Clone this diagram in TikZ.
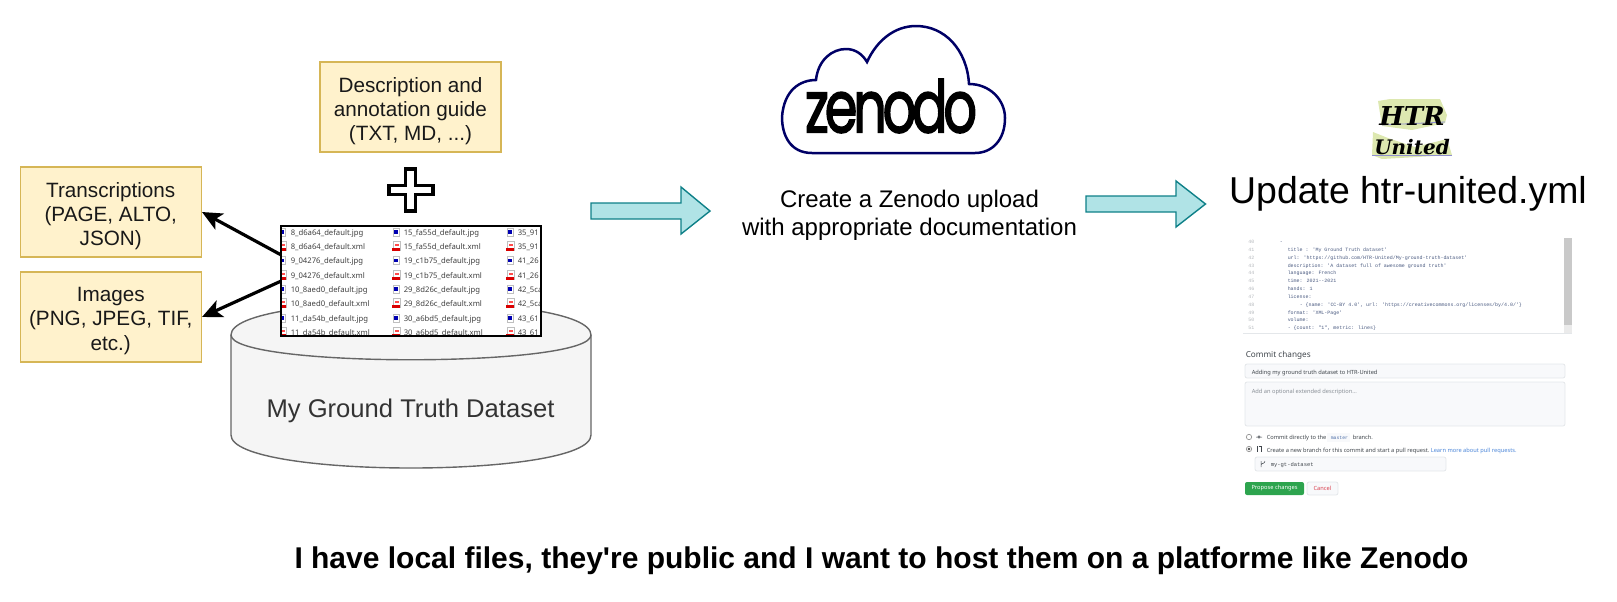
\documentclass[tikz,border=0pt]{standalone}
\usepackage{fontspec}
\setmainfont{Liberation Sans}
\newfontfamily\uifont{Noto Sans}
\newfontfamily\codefont{Liberation Mono}
\newfontfamily\zenfont[LetterSpace=-8,FakeBold=2.5]{Poppins}
\newfontfamily\handfont{DejaVu Serif}
\usetikzlibrary{arrows.meta}

\definecolor{boxfill}{HTML}{FFF2CC}
\definecolor{boxline}{HTML}{D6B656}
\definecolor{stepfill}{HTML}{B0E3E6}
\definecolor{stepline}{HTML}{0E8088}
\definecolor{dbfill}{HTML}{F5F5F5}
\definecolor{dbline}{HTML}{666666}
\definecolor{dbtext}{HTML}{333333}
\definecolor{cloudline}{HTML}{000066}
\definecolor{logofill}{HTML}{DDE8B0}
\definecolor{logoline}{HTML}{8F8FD0}
\definecolor{ghline}{HTML}{E4E7EA}
\definecolor{ghfill}{HTML}{F8F9FB}
\definecolor{ghtext}{HTML}{40464C}
\definecolor{ghmute}{HTML}{8A9097}
\definecolor{ghblue}{HTML}{4C86D8}
\definecolor{ghgreen}{HTML}{2DA44E}
\definecolor{ghred}{HTML}{D9414F}
\definecolor{codekey}{HTML}{4D6FA8}
\definecolor{codestr}{HTML}{4A5A80}
\definecolor{codenum}{HTML}{B4B8BC}

\tikzset{every picture/.style={line width=0.75pt}}
\tikzset{
  formatbox/.style={draw=boxline,fill=boxfill,minimum width=90.5pt,minimum height=45pt,inner sep=0pt},
  formattext/.style={inner sep=0pt,align=center,text=black!90,font=\fontsize{10.35}{12.1}\selectfont},
  stepshape/.style={draw=stepline,fill=stepfill,line width=0.7pt},
  filearrow/.style={line width=1.6pt,-{Stealth[length=10pt,width=9pt,inset=2.5pt]}},
  filetext/.style={anchor=base west,inner sep=0pt,text=black!75,font=\uifont\fontsize{3.85}{5}\selectfont},
  linenum/.style={anchor=base east,inner sep=0pt,text=codenum,font=\codefont\fontsize{2.48}{3}\selectfont},
  codetext/.style={anchor=base west,inner sep=0pt,text=codestr,font=\codefont\fontsize{2.48}{3}\selectfont},
  uitext/.style={anchor=base west,inner sep=0pt,text=ghtext,font=\uifont\fontsize{2.85}{3}\selectfont},
  inputbox/.style={draw=ghline,fill=ghfill,line width=0.4pt,rounded corners=1pt},
  uiicon/.style={draw=ghtext,line width=0.25pt},
  jpgicon/.pic={\fill[white] (-3,-4) rectangle (3,4); \draw[black!25,line width=0.2pt] (-3,-4) rectangle (3,4); \fill[blue!70!black] (-1.8,-1.8) rectangle (1.8,1.8);},
  xmlicon/.pic={\fill[white] (-3,-4) rectangle (4,5); \draw[black!25,line width=0.2pt] (-3,-4) rectangle (4,5); \fill[red!85!black] (-4,-5) rectangle (4,-2); \fill[red!70] (-1.5,0) rectangle (3,2.5);}
}

\begin{document}
\begin{tikzpicture}[x=0.5pt,y=0.5pt,yscale=-1,xscale=1]
\useasboundingbox (0,0) rectangle (1617,601);

% Cylinder
\draw [draw=dbline,fill=dbfill,line width=0.7pt] (231,335) .. controls (231,291) and (591,291) .. (591,335) -- (591,435) .. controls (591,479) and (231,479) .. (231,435) -- cycle ;
\draw [draw=dbline,line width=0.7pt] (231,335) .. controls (231,368) and (591,368) .. (591,335) ;
\node (dataset) [inner sep=0pt,text=dbtext,font=\fontsize{12.8}{14}\selectfont] at (410.5,411) {My Ground Truth Dataset};

% Format boxes
\node (guide) [formatbox] at (410.5,107) {};
\node (guidetext) [formattext] at (410.5,111) {Description and\\annotation guide\\(TXT, MD, ...)};
\node (transcriptions) [formatbox] at (110.75,212) {};
\node (transcriptionstext) [formattext] at (110.75,216) {Transcriptions\\(PAGE, ALTO,\\JSON)};
\node (images) [formatbox] at (110.75,317) {};
\node (imagestext) [formattext] at (110.75,321) {Images\\(PNG, JPEG, TIF,\\etc.)};

% Plus sign
\draw [line width=1.75pt,fill=white] (405.5,169) -- (415.5,169) -- (415.5,185.5) -- (433,185.5) -- (433,194.5) -- (415.5,194.5) -- (415.5,211) -- (405.5,211) -- (405.5,194.5) -- (389,194.5) -- (389,185.5) -- (405.5,185.5) -- cycle ;

% File list
\node (filelist) [fill=white,minimum width=129pt,minimum height=54pt,inner sep=0pt] at (411,281) {};
\begin{scope}
\clip (filelist.north west) rectangle (filelist.south east);
\pic at (282,232) {jpgicon}; \pic at (396,232) {jpgicon}; \pic at (510,232) {jpgicon};
\pic at (282,246) {xmlicon}; \pic at (396,246) {xmlicon}; \pic at (510,246) {xmlicon};
\pic at (282,260.5) {jpgicon}; \pic at (396,260.5) {jpgicon}; \pic at (510,260.5) {jpgicon};
\pic at (282,275) {xmlicon}; \pic at (396,275) {xmlicon}; \pic at (510,275) {xmlicon};
\pic at (282,289) {jpgicon}; \pic at (396,289) {jpgicon}; \pic at (510,289) {jpgicon};
\pic at (282,303) {xmlicon}; \pic at (396,303) {xmlicon}; \pic at (510,303) {xmlicon};
\pic at (282,318) {jpgicon}; \pic at (396,318) {jpgicon}; \pic at (510,318) {jpgicon};
\pic at (282,332) {xmlicon}; \pic at (396,332) {xmlicon}; \pic at (510,332) {xmlicon};
\node (fa1) [filetext] at (290,235) {8\_d6a64\_default.jpg};
\node (fa2) [filetext] at (290,249) {8\_d6a64\_default.xml};
\node (fa3) [filetext] at (290,263.5) {9\_04276\_default.jpg};
\node (fa4) [filetext] at (290,278) {9\_04276\_default.xml};
\node (fa5) [filetext] at (290,292) {10\_8aed0\_default.jpg};
\node (fa6) [filetext] at (290,306) {10\_8aed0\_default.xml};
\node (fa7) [filetext] at (290,321) {11\_da54b\_default.jpg};
\node (fa8) [filetext] at (290,335) {11\_da54b\_default.xml};
\node (fb1) [filetext] at (403,235) {15\_fa55d\_default.jpg};
\node (fb2) [filetext] at (403,249) {15\_fa55d\_default.xml};
\node (fb3) [filetext] at (403,263.5) {19\_c1b75\_default.jpg};
\node (fb4) [filetext] at (403,278) {19\_c1b75\_default.xml};
\node (fb5) [filetext] at (403,292) {29\_8d26c\_default.jpg};
\node (fb6) [filetext] at (403,306) {29\_8d26c\_default.xml};
\node (fb7) [filetext] at (403,321) {30\_a6bd5\_default.jpg};
\node (fb8) [filetext] at (403,335) {30\_a6bd5\_default.xml};
\node (fc1) [filetext] at (517,235) {35\_91};
\node (fc2) [filetext] at (517,249) {35\_91};
\node (fc3) [filetext] at (517,263.5) {41\_26};
\node (fc4) [filetext] at (517,278) {41\_26};
\node (fc5) [filetext] at (517,292) {42\_5ca};
\node (fc6) [filetext] at (517,306) {42\_5ca};
\node (fc7) [filetext] at (517,321) {43\_61};
\node (fc8) [filetext] at (517,335) {43\_61};
\end{scope}
\draw [line width=0.9pt] (filelist.north west) rectangle (filelist.south east) ;

% File arrows
\draw [filearrow] ([yshift=-13pt]filelist.west) -- (transcriptions.east) ;
\draw [filearrow] (filelist.west) -- (images.east) ;

% Block arrows
\draw [stepshape] (591,203) -- (681,203) -- (681,187) -- (710,211) -- (681,234) -- (681,219) -- (591,219) -- cycle ;
\draw [stepshape] (1086,196) -- (1176,196) -- (1176,181) -- (1205.5,204) -- (1176,227) -- (1176,212) -- (1086,212) -- cycle ;

% Zenodo cloud
\draw [draw=cloudline,line width=1.25pt] (812,153) .. controls (790,153) and (782,135) .. (782,117) .. controls (784,90) and (800,80) .. (816,80) .. controls (818,60) and (832,49) .. (846,49) .. controls (856,49) and (863,55) .. (867,62) .. controls (877,40) and (895,26) .. (916,26) .. controls (945,26) and (967,50) .. (969,84) .. controls (990,84) and (1005,100) .. (1005,118) .. controls (1005,140) and (992,153) .. (975,153) -- cycle ;
\node (zenodologo) [inner sep=0pt] at (891,106) {\scalebox{0.73}[1]{\zenfont\fontsize{36}{36}\selectfont zenodo}};

% Step text
\node (zenodostep) [align=center,inner sep=0pt,font=\fontsize{12}{14.2}\selectfont] at (909.5,215) {Create a Zenodo upload\\with appropriate documentation};

% HTR-United logo
\fill [logofill] (1378,101) -- (1390,99) -- (1440,99) -- (1447,115) -- (1445,123) -- (1412,130) -- (1382,126) -- cycle ;
\fill [logofill] (1373,132) -- (1388,138) -- (1415,147) -- (1447,139) -- (1452,155) -- (1382,159) -- (1372,155) -- cycle ;
\draw [logoline,line width=0.4pt] (1382,125) -- (1445,122) ;
\draw [logoline,line width=0.4pt] (1372,155) -- (1452,155) ;
\node (logohtr) [anchor=base,inner sep=0pt,font=\handfont\bfseries\itshape\fontsize{13}{13}\selectfont] at (1412,125) {HTR};
\node (logounited) [anchor=base,inner sep=0pt,font=\handfont\bfseries\itshape\fontsize{10}{10}\selectfont] at (1412,154) {United};

% Update title
\node (updatetitle) [inner sep=0pt,font=\fontsize{18.7}{20}\selectfont] at (1408,194) {Update htr-united.yml};

% Code view
\fill [black!21] (1564,238) rectangle (1572,325);
\fill [black!8] (1564,325) rectangle (1572,333);
\draw [ghline,line width=0.4pt] (1243,333) -- (1572,333) ;
\node (n40) [linenum] at (1255,243) {40};
\node (n41) [linenum] at (1255,251) {41};
\node (n42) [linenum] at (1255,259) {42};
\node (n43) [linenum] at (1255,267) {43};
\node (n44) [linenum] at (1255,274.5) {44};
\node (n45) [linenum] at (1255,282.5) {45};
\node (n46) [linenum] at (1255,290.5) {46};
\node (n47) [linenum] at (1255,298) {47};
\node (n48) [linenum] at (1255,306) {48};
\node (n49) [linenum] at (1255,314) {49};
\node (n50) [linenum] at (1255,321.5) {50};
\node (n51) [linenum] at (1255,329.5) {51};
\node (c40) [codetext] at (1279,243) {-};
\node (c41) [codetext] at (1287,251) {title : 'My Ground Truth dataset'};
\node (c42) [codetext] at (1287,259) {url: 'https://github.com/HTR-United/My-ground-truth-dataset'};
\node (c43) [codetext] at (1287,267) {description: 'A dataset full of awesome ground truth'};
\node (c44) [codetext] at (1287,274.5) {language: French};
\node (c45) [codetext] at (1287,282.5) {time: 2021--2021};
\node (c46) [codetext] at (1287,290.5) {hands: 1};
\node (c47) [codetext] at (1287,298) {license:};
\node (c48) [codetext] at (1299,306) {- \{name: 'CC-BY 4.0', url: 'https://creativecommons.org/licenses/by/4.0/'\}};
\node (c49) [codetext] at (1287,314) {format: 'XML-Page'};
\node (c50) [codetext] at (1287,321.5) {volume:};
\node (c51) [codetext] at (1287,329.5) {- \{count: "1", metric: lines\}};

% Commit form
\node (commithead) [uitext,text=ghtext,font=\uifont\bfseries\fontsize{4.1}{4}\selectfont] at (1245,357) {Commit changes};
\draw [inputbox] (1245,364) rectangle (1565,378) ;
\node (commitmsg) [uitext] at (1251,374) {Adding my ground truth dataset to HTR-United};
\draw [inputbox] (1245,382) rectangle (1565,426) ;
\node (commitdesc) [uitext,text=ghmute] at (1251,393) {Add an optional extended description...};
\draw [black!40,line width=0.35pt,fill=white] (1249,437) circle (2.7) ;
\draw [uiicon] (1256,437) -- (1257.8,437) (1260.2,437) -- (1262,437) (1259,437) circle (1.2) ;
\node (directlab) [uitext] at (1266,439.5) {Commit directly to the};
\fill [ghfill] (1327,433) rectangle (1350,442);
\node (masterlab) [uitext,text=codekey,font=\codefont\fontsize{2.4}{3}\selectfont] at (1330,439.5) {master};
\node (branchlab) [uitext] at (1352,439.5) {branch.};
\draw [black!40,line width=0.35pt,fill=white] (1249,449) circle (2.7) ;
\fill [black!70] (1249,449) circle (1.4);
\draw [uiicon] (1257,446) -- (1257,452) (1261,448) -- (1261,452) (1258.5,446) -- (1261,446) -- (1261,448) ;
\node (newlab) [uitext] at (1266,452) {Create a \textbf{new branch} for this commit and start a pull request.};
\node (learnlab) [uitext,text=ghblue] at (1430,452) {Learn more about pull requests.};
\draw [inputbox] (1255,457) rectangle (1446,471) ;
\draw [uiicon] (1261,461) -- (1261,467) (1265,461) .. controls (1265,464) and (1261,463) .. (1261,465) ;
\node (branchname) [uitext,font=\codefont\fontsize{2.75}{3}\selectfont] at (1270,466.5) {my-gt-dataset};
\node (proposebtn) [fill=ghgreen,rounded corners=1pt,minimum width=29.5pt,minimum height=6.5pt,inner sep=0pt,text=white,font=\uifont\fontsize{2.85}{3}\selectfont] at (1274.5,488.5) {Propose changes};
\node (cancelbtn) [draw=ghline,fill=ghfill,line width=0.4pt,rounded corners=1pt,minimum width=15.5pt,minimum height=6.5pt,inner sep=0pt,text=ghred,font=\uifont\fontsize{2.85}{3}\selectfont] at (1322.5,488.5) {Cancel};

% Caption
\node (caption) [inner sep=0pt,font=\bfseries\fontsize{15}{16}\selectfont] at (881.5,561) {I have local files, they\textquotesingle re public and I want to host them on a platforme like Zenodo};

\end{tikzpicture}
\end{document}
